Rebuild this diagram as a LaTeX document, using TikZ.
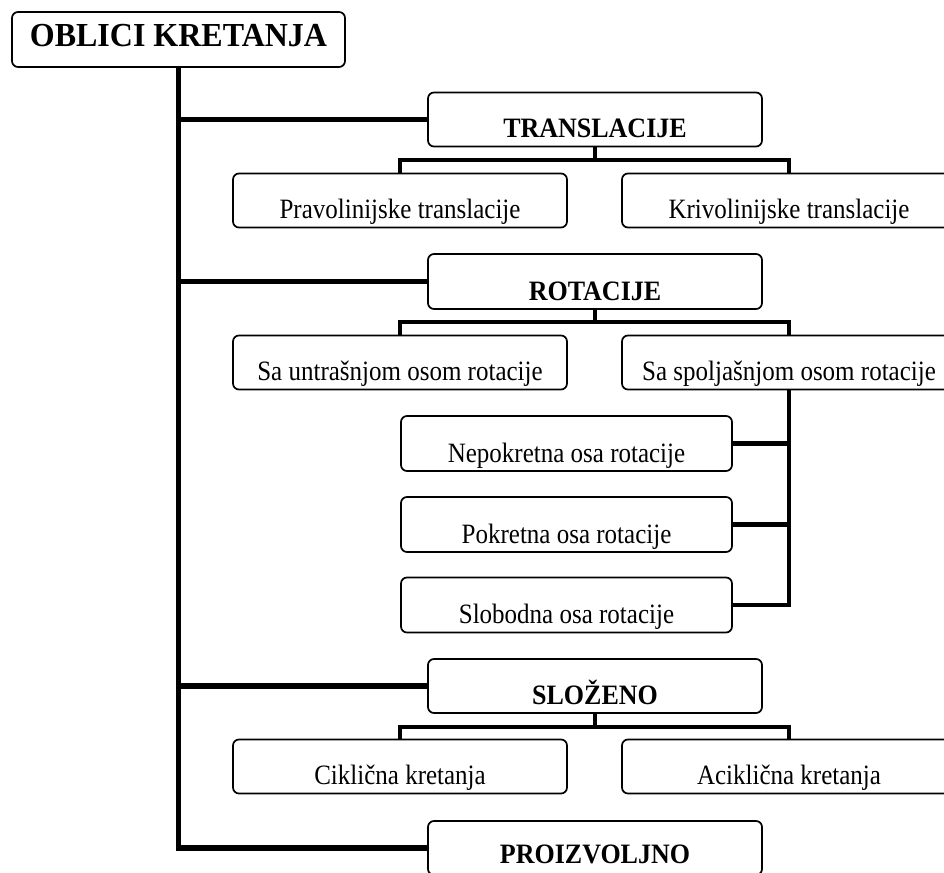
\documentclass[tikz,border=0pt]{standalone}
\usepackage{fontspec}
\usepackage{graphicx}
\setmainfont{Liberation Serif}

% slightly condensed lettering: stretch text vertically
\newcommand\tallfac{1.12}
\newcommand\talltxt[1]{\scalebox{1}[\tallfac]{#1}}

\tikzset{
  box/.style={draw, line width=1.7pt, rounded corners=6pt, fill=white,
    inner sep=0pt, minimum width=334pt, text height=45pt, text depth=9pt,
    align=center},
  rootbox/.style={box, minimum width=333pt, text height=35pt, text depth=20pt,
    font=\fontsize{32}{36}\selectfont\bfseries,
    execute at begin node={\renewcommand\tallfac{1.05}}},
  headbox/.style={box, font=\fontsize{26}{30}\selectfont\bfseries,
    execute at begin node={\renewcommand\tallfac{1.08}}},
  leafbox/.style={box, font=\fontsize{25}{30}\selectfont,
    execute at begin node={\renewcommand\tallfac{1.12}}},
  subbox/.style={leafbox, minimum width=331pt, text height=46pt},
  conn/.style={line width=4.7pt, line cap=butt, line join=miter},
  trunk/.style={conn, line width=5.5pt},
}

\begin{document}
\begin{tikzpicture}[x=1pt, y=-1pt]
  \useasboundingbox (0,0) rectangle (944,872);
  \clip (0,0) rectangle (944,872);

  % junction points below the group headers
  \coordinate (tj) at (595,160);
  \coordinate (rj) at (595,322);
  \coordinate (sj) at (595,727);

  % boxes
  \node[rootbox] (root) at (178.5,39.5) {\talltxt{OBLICI KRETANJA}};

  \node[headbox] (tra) at (595,119.5) {\talltxt{TRANSLACIJE}};
  \node[leafbox] (pra) at (400,200.5) {\talltxt{Pravolinijske translacije}};
  \node[leafbox] (kri) at (789,200.5) {\talltxt{Krivolinijske translacije}};

  \node[headbox, text height=46pt] (rot) at (595,281.5) {\talltxt{ROTACIJE}};
  \node[leafbox] (unu) at (400,362.5) {\talltxt{Sa untrašnjom osom rotacije}};
  \node[leafbox] (spo) at (789,362.5) {\talltxt{Sa spoljašnjom osom rotacije}};

  \node[subbox] (nep) at (566.5,443.5) {\talltxt{Nepokretna osa rotacije}};
  \node[subbox] (pok) at (566.5,524.5) {\talltxt{Pokretna osa rotacije}};
  \node[subbox] (slo) at (566.5,605) {\talltxt{Slobodna osa rotacije}};

  \node[headbox] (sloz) at (595,686) {\talltxt{SLOŽENO}};
  \node[leafbox] (cik) at (400,766.5) {\talltxt{Ciklična kretanja}};
  \node[leafbox] (aci) at (789,766.5) {\talltxt{Aciklična kretanja}};

  \node[headbox, text height=42pt, text depth=12pt] (pro) at (595,848) {\talltxt{PROIZVOLJNO}};

  % main trunk and its branches
  \draw[trunk] (root.south) |- (pro.west);
  \draw[trunk] (root.south |- tra.west) -- (tra.west);
  \draw[trunk] (root.south |- rot.west) -- (rot.west);
  \draw[trunk] (root.south |- sloz.west) -- (sloz.west);

  % translations
  \draw[conn] (tra.south) -- (tj);
  \draw[conn] (pra.north) |- (tj) -| (kri.north);

  % rotations
  \draw[conn] (rot.south) -- (rj);
  \draw[conn] (unu.north) |- (rj) -| (spo.north);
  \draw[conn] (spo.south) |- (slo.east);
  \draw[conn] (spo.south |- nep.east) -- (nep.east);
  \draw[conn] (spo.south |- pok.east) -- (pok.east);

  % compound motion
  \draw[conn] (sloz.south) -- (sj);
  \draw[conn] (cik.north) |- (sj) -| (aci.north);
\end{tikzpicture}
\end{document}
